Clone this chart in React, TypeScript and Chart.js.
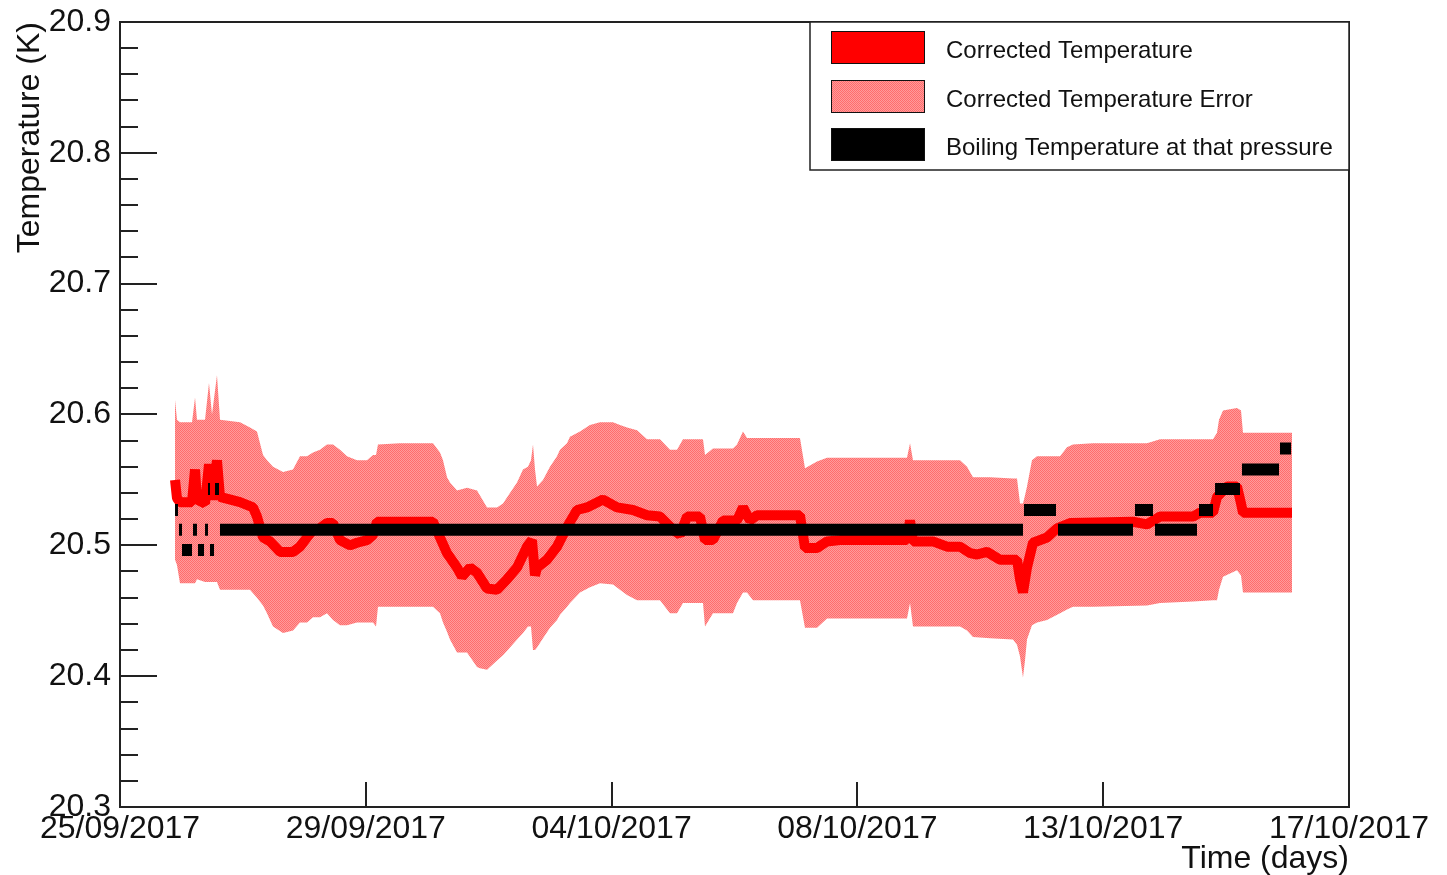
import React, { useEffect, useRef } from "react";
import { Chart, registerables } from "chart.js";

Chart.register(...registerables);

const FONT = '"Liberation Sans", Arial, Helvetica, sans-serif';

// x axis: days since 25/09/2017 12:00
const xMin = 0;
const xMax = 22;
const xTickDays = [0, 4.4, 8.8, 13.2, 17.6, 22];
const xTickLabels = ["25/09/2017", "29/09/2017", "04/10/2017", "08/10/2017", "13/10/2017", "17/10/2017"];
const yMin = 20.3;
const yMax = 20.9;
const yTickValues = [20.3, 20.4, 20.5, 20.6, 20.7, 20.8, 20.9];
const yMinorStep = 0.02;

const xTitle = "Time (days)";
const yTitle = "Temperature (K)";
const legendLabels = ["Corrected Temperature", "Corrected Temperature Error", "Boiling Temperature at that pressure"];

// Corrected temperature error band
const bandDays = [
  0.985, 1.02, 1.074, 1.289, 1.343, 1.378, 1.522, 1.593, 1.647, 1.736, 1.79, 2.148, 2.327, 2.452, 2.56, 2.631,
  2.739, 2.918, 3.097, 3.222, 3.347, 3.455, 3.58, 3.705, 3.813, 3.938, 4.063, 4.242, 4.421, 4.529, 4.583, 4.618,
  5.012, 5.603, 5.728, 5.782, 5.854, 5.907, 6.033, 6.212, 6.391, 6.444, 6.57, 6.749, 6.856, 6.981, 7.107, 7.214,
  7.303, 7.357, 7.393, 7.429, 7.465, 7.572, 7.697, 7.823, 7.876, 8.002, 8.055, 8.234, 8.413, 8.592, 8.825, 8.95,
  9.076, 9.255, 9.434, 9.666, 9.845, 9.971, 10.078, 10.436, 10.472, 10.615, 10.973, 11.045, 11.152, 11.224, 11.331,
  12.172, 12.262, 12.477, 12.656, 14.088, 14.142, 14.195, 15.037, 15.162, 15.269, 15.574, 15.985, 16.057, 16.111,
  16.164, 16.2, 16.236, 16.325, 16.415, 16.594, 16.827, 16.952, 17.059, 17.417, 18.384, 18.617, 19.208, 19.566,
  19.637, 19.673, 19.745, 19.995, 20.067, 20.102, 20.98,
];
const bandHigh = [
  20.611, 20.596, 20.594, 20.594, 20.613, 20.596, 20.596, 20.624, 20.6, 20.63, 20.596, 20.594, 20.59, 20.587, 20.569, 20.565,
  20.56, 20.556, 20.558, 20.568, 20.568, 20.571, 20.573, 20.577, 20.577, 20.573, 20.568, 20.565, 20.565, 20.569, 20.569, 20.577,
  20.578, 20.578, 20.571, 20.565, 20.552, 20.548, 20.542, 20.544, 20.542, 20.538, 20.529, 20.529, 20.532, 20.54, 20.548, 20.558,
  20.56, 20.565, 20.577, 20.558, 20.545, 20.55, 20.56, 20.568, 20.573, 20.578, 20.583, 20.587, 20.592, 20.594, 20.594, 20.592,
  20.59, 20.588, 20.581, 20.581, 20.573, 20.573, 20.581, 20.581, 20.569, 20.574, 20.574, 20.577, 20.587, 20.582, 20.582,
  20.582, 20.559, 20.564, 20.567, 20.567, 20.578, 20.565, 20.565, 20.56, 20.552, 20.552, 20.551, 20.551, 20.532,
  20.532, 20.538, 20.545, 20.565, 20.568, 20.568, 20.568, 20.575, 20.577, 20.578, 20.578, 20.581, 20.581, 20.581,
  20.586, 20.596, 20.603, 20.605, 20.603, 20.586, 20.586,
];
const bandLow = [
  20.489, 20.485, 20.471, 20.471, 20.471, 20.474, 20.472, 20.472, 20.472, 20.472, 20.466, 20.466, 20.466, 20.46, 20.454, 20.448,
  20.438, 20.433, 20.435, 20.441, 20.441, 20.445, 20.445, 20.448, 20.443, 20.439, 20.439, 20.441, 20.441, 20.441, 20.438, 20.453,
  20.453, 20.453, 20.448, 20.441, 20.434, 20.428, 20.418, 20.418, 20.407, 20.406, 20.405, 20.412, 20.416, 20.422, 20.428, 20.433,
  20.438, 20.438, 20.42, 20.42, 20.422, 20.429, 20.437, 20.443, 20.447, 20.453, 20.456, 20.464, 20.468, 20.471, 20.47, 20.466,
  20.462, 20.458, 20.458, 20.458, 20.448, 20.448, 20.456, 20.456, 20.438, 20.448, 20.448, 20.456, 20.464, 20.464, 20.458,
  20.458, 20.437, 20.437, 20.444, 20.444, 20.456, 20.438, 20.438, 20.435, 20.43, 20.429, 20.428, 20.424, 20.415,
  20.399, 20.412, 20.428, 20.439, 20.441, 20.443, 20.448, 20.451, 20.453, 20.453, 20.454, 20.456, 20.457, 20.458,
  20.458, 20.466, 20.476, 20.481, 20.477, 20.464, 20.464,
];

// Corrected temperature
const tempDays = [
  0.985, 1.02, 1.074, 1.289, 1.343, 1.378, 1.522, 1.593, 1.647, 1.736, 1.79, 2.148, 2.381, 2.452, 2.56, 2.685,
  2.864, 3.097, 3.222, 3.347, 3.455, 3.58, 3.705, 3.813, 3.938, 4.117, 4.242, 4.421, 4.529, 4.6, 5.012, 5.603,
  5.728, 5.854, 6.033, 6.122, 6.265, 6.391, 6.57, 6.749, 6.928, 7.107, 7.286, 7.375, 7.429, 7.465, 7.644, 7.823,
  8.002, 8.181, 8.36, 8.646, 8.897, 9.183, 9.434, 9.666, 9.899, 10.024, 10.15, 10.382, 10.472, 10.615, 10.794,
  11.045, 11.152, 11.277, 11.403, 12.172, 12.262, 12.477, 12.656, 12.888, 14.088, 14.142, 14.195, 14.553, 14.804,
  15.037, 15.216, 15.341, 15.52, 15.753, 16.057, 16.111, 16.164, 16.236, 16.343, 16.594, 16.773, 17.006, 18.133,
  18.384, 18.617, 19.208, 19.333, 19.566, 19.637, 19.816, 19.995, 20.067, 20.102, 20.98,
];
const tempValues = [
  20.55, 20.536, 20.533, 20.533, 20.558, 20.535, 20.532, 20.562, 20.535, 20.565, 20.537, 20.533, 20.529, 20.522, 20.506, 20.503,
  20.495, 20.495, 20.499, 20.506, 20.512, 20.513, 20.517, 20.517, 20.504, 20.5, 20.502, 20.504, 20.508, 20.518, 20.518, 20.518,
  20.506, 20.494, 20.483, 20.476, 20.483, 20.479, 20.467, 20.466, 20.474, 20.483, 20.499, 20.504, 20.477, 20.483, 20.489, 20.499,
  20.514, 20.527, 20.529, 20.535, 20.529, 20.527, 20.523, 20.522, 20.512, 20.508, 20.522, 20.522, 20.504, 20.504, 20.519,
  20.519, 20.529, 20.519, 20.523, 20.523, 20.498, 20.498, 20.503, 20.504, 20.504, 20.519, 20.503, 20.503, 20.499,
  20.499, 20.494, 20.493, 20.495, 20.489, 20.489, 20.474, 20.464, 20.483, 20.502, 20.506, 20.513, 20.517, 20.518,
  20.516, 20.522, 20.522, 20.525, 20.525, 20.537, 20.545, 20.545, 20.532, 20.525, 20.525,
];

// Boiling temperature at that pressure (constant steps)
const boilStart = [0.985, 1.056, 1.11, 1.307, 1.396, 1.522, 1.575, 1.611, 1.701, 1.79, 16.182, 16.791, 18.169, 18.527, 19.315, 19.602, 20.084, 20.765];
const boilEnd = [1.038, 1.11, 1.289, 1.378, 1.504, 1.575, 1.611, 1.683, 1.772, 16.164, 16.755, 18.133, 18.491, 19.279, 19.566, 20.049, 20.747, 20.962];
const boilLevel = [20.527, 20.512, 20.4964, 20.512, 20.4964, 20.512, 20.543, 20.4964, 20.543, 20.512, 20.527, 20.512, 20.527, 20.512, 20.527, 20.543, 20.558, 20.574];

function buildBoilData() {
  const out: { x: number; y: number | null }[] = [];
  for (let i = 0; i < boilStart.length; i++) {
    out.push({ x: boilStart[i], y: boilLevel[i] });
    out.push({ x: boilEnd[i], y: boilLevel[i] });
    out.push({ x: boilEnd[i], y: null });
  }
  return out;
}

function makeHatch(ctx: CanvasRenderingContext2D): CanvasPattern | string {
  const c = document.createElement("canvas");
  c.width = 2;
  c.height = 2;
  const g = c.getContext("2d");
  if (!g) return "rgb(255,131,131)";
  g.fillStyle = "rgb(255,155,155)";
  g.fillRect(0, 0, 2, 2);
  g.fillStyle = "rgb(255,108,108)";
  g.fillRect(0, 0, 1, 1);
  g.fillRect(1, 1, 1, 1);
  return ctx.createPattern(c, "repeat") || "rgb(255,131,131)";
}

export default function App() {
  const ref = useRef<HTMLCanvasElement | null>(null);

  useEffect(() => {
    const canvas = ref.current;
    if (!canvas) return;
    const ctx0 = canvas.getContext("2d") as CanvasRenderingContext2D;
    const hatch = makeHatch(ctx0);

    const framePlugin = {
      id: "rootFrame",
      afterDraw(chart: any) {
        const { ctx, chartArea: a, scales } = chart;
        const xs = scales.x;
        const ys = scales.y;
        ctx.save();
        ctx.strokeStyle = "#222";
        ctx.lineWidth = 2;
        ctx.strokeRect(a.left, a.top, a.right - a.left, a.bottom - a.top);
        ctx.beginPath();
        const n = Math.round((yMax - yMin) / yMinorStep);
        for (let i = 0; i <= n; i++) {
          const v = yMin + i * yMinorStep;
          const py = Math.round(ys.getPixelForValue(v));
          const len = i % 5 === 0 ? 37 : 18;
          ctx.moveTo(a.left, py);
          ctx.lineTo(a.left + len, py);
        }
        for (let i = 1; i < xTickDays.length - 1; i++) {
          const px = Math.round(xs.getPixelForValue(xTickDays[i]));
          ctx.moveTo(px, a.bottom);
          ctx.lineTo(px, a.bottom - 25);
        }
        ctx.stroke();

        // legend
        const lx = 810, ly = a.top, lw = a.right - 810, lh = 148;
        ctx.fillStyle = "#fff";
        ctx.fillRect(lx, ly, lw, lh);
        ctx.lineWidth = 1.5;
        ctx.strokeStyle = "#222";
        ctx.strokeRect(lx, ly, lw, lh);
        const swatchFills: (string | CanvasPattern)[] = ["#ff0000", hatch, "#000000"];
        const rowTops = [31, 80, 128];
        ctx.font = `24px ${FONT}`;
        ctx.textBaseline = "middle";
        ctx.textAlign = "left";
        for (let i = 0; i < legendLabels.length; i++) {
          const sy = rowTops[i];
          ctx.fillStyle = swatchFills[i] as any;
          ctx.fillRect(831, sy, 94, 33);
          ctx.lineWidth = 1;
          ctx.strokeStyle = "#111";
          ctx.strokeRect(831.5, sy + 0.5, 93, 32);
          ctx.fillStyle = "#111";
          ctx.fillText(legendLabels[i], 946, sy + 20);
        }
        ctx.restore();
      },
    };

    const chart = new Chart(canvas, {
      type: "line",
      data: {
        datasets: [
          {
            label: legendLabels[2],
            data: buildBoilData(),
            borderColor: "#000000",
            backgroundColor: "#000000",
            borderWidth: 12,
            borderCapStyle: "butt",
            pointRadius: 0,
            spanGaps: false,
            fill: false,
            tension: 0,
            order: 0,
          },
          {
            label: legendLabels[0],
            data: tempDays.map((d, i) => ({ x: d, y: tempValues[i] })),
            borderColor: "#ff0000",
            backgroundColor: "#ff0000",
            borderWidth: 10,
            borderJoinStyle: "bevel",
            pointRadius: 0,
            fill: false,
            tension: 0,
            order: 1,
          },
          {
            label: "low",
            data: bandDays.map((d, i) => ({ x: d, y: bandLow[i] })),
            borderColor: "rgba(0,0,0,0)",
            borderWidth: 0,
            pointRadius: 0,
            fill: false,
            tension: 0,
            order: 2,
          },
          {
            label: legendLabels[1],
            data: bandDays.map((d, i) => ({ x: d, y: bandHigh[i] })),
            borderColor: "rgba(0,0,0,0)",
            backgroundColor: hatch as any,
            borderWidth: 0,
            pointRadius: 0,
            fill: 2,
            tension: 0,
            order: 3,
          },
        ],
      },
      options: {
        animation: false,
        responsive: false,
        maintainAspectRatio: false,
        layout: { padding: { left: 0, top: 22, right: 98, bottom: 0 } },
        plugins: { legend: { display: false }, tooltip: { enabled: false } },
        scales: {
          x: {
            type: "linear",
            min: xMin,
            max: xMax,
            grid: { display: false },
            border: { display: false },
            afterBuildTicks: (s: any) => {
              s.ticks = xTickDays.map((v) => ({ value: v }));
            },
            afterFit: (s: any) => {
              s.height = 68;
            },
            ticks: {
              autoSkip: false,
              maxRotation: 0,
              padding: -5,
              color: "#111",
              font: { family: FONT, size: 32 },
              callback: (_v: any, i: number) => xTickLabels[i],
            },
            title: {
              display: true,
              text: xTitle,
              align: "end",
              color: "#111",
              font: { family: FONT, size: 32 },
              padding: { top: 0, bottom: -3 },
            },
          },
          y: {
            type: "linear",
            min: yMin,
            max: yMax,
            grid: { display: false },
            border: { display: false },
            afterBuildTicks: (s: any) => {
              s.ticks = yTickValues.map((v) => ({ value: v }));
            },
            afterFit: (s: any) => {
              s.width = 120;
            },
            ticks: {
              padding: 1,
              color: "#111",
              font: { family: FONT, size: 32 },
              callback: (v: any) => Number(v).toFixed(1),
            },
            title: {
              display: true,
              text: yTitle,
              align: "end",
              color: "#111",
              font: { family: FONT, size: 32 },
              padding: { top: 11, bottom: 0 },
            },
          },
        },
      },
      plugins: [framePlugin],
    } as any);

    return () => chart.destroy();
  }, []);

  return (
    <div style={{ position: "fixed", left: 0, top: 0, width: 1447, height: 875, background: "#fff" }}>
      <canvas ref={ref} width={1447} height={875} style={{ display: "block" }} />
    </div>
  );
}
